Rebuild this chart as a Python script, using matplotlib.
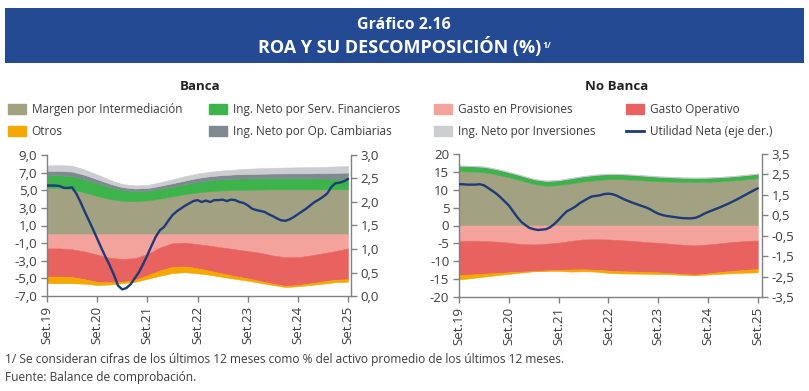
import matplotlib
matplotlib.use('Agg')
import matplotlib.pyplot as plt
from matplotlib.patches import Patch, Rectangle
from matplotlib.lines import Line2D
from matplotlib.ticker import FuncFormatter, FixedLocator

plt.rcParams['font.family'] = ['Open Sans', 'DejaVu Sans']

W, H = 809, 391

# ---------------- data ----------------
# months since Set.19 (quarterly readings for the stacked areas)
q_months = [0, 3, 6, 9, 12, 15, 18, 21, 24, 27, 30, 33, 36, 39, 42, 45, 48, 51, 54, 57, 60, 63, 66, 69, 72]
m_months = list(range(73))
tick_months = [0, 12, 24, 36, 48, 60, 72]
tick_labels = ['Set.19', 'Set.20', 'Set.21', 'Set.22', 'Set.23', 'Set.24', 'Set.25']

# Banca
banca_margen = [5.30, 5.25, 5.10, 4.75, 4.35, 4.00, 3.80, 3.75, 3.85, 4.05, 4.30, 4.55, 4.75,
                4.90, 4.98, 5.02, 5.05, 5.08, 5.10, 5.10, 5.10, 5.10, 5.10, 5.10, 5.10]
banca_serv_fin = [1.38, 1.45, 1.50, 1.50, 1.45, 1.35, 1.25, 1.15, 1.10, 1.10, 1.10, 1.15, 1.20,
                  1.25, 1.27, 1.30, 1.30, 1.30, 1.30, 1.30, 1.28, 1.25, 1.23, 1.22, 1.22]
banca_cambiarias = [0.52, 0.50, 0.52, 0.50, 0.45, 0.40, 0.30, 0.30, 0.30, 0.35, 0.40, 0.40, 0.45,
                    0.45, 0.47, 0.48, 0.50, 0.50, 0.50, 0.52, 0.54, 0.57, 0.62, 0.66, 0.68]
banca_inversiones = [0.62, 0.65, 0.68, 0.60, 0.55, 0.45, 0.35, 0.35, 0.35, 0.40, 0.45, 0.50, 0.50,
                     0.50, 0.53, 0.55, 0.60, 0.62, 0.65, 0.66, 0.68, 0.70, 0.70, 0.72, 0.78]
banca_provisiones = [-1.60, -1.60, -1.70, -1.95, -2.30, -2.65, -2.80, -2.70, -2.25, -1.50, -1.00, -0.95, -1.12,
                     -1.30, -1.50, -1.70, -1.90, -2.10, -2.40, -2.60, -2.60, -2.40, -2.15, -1.90, -1.60]
banca_gasto_op = [-3.20, -3.20, -3.15, -3.15, -3.10, -2.80, -2.60, -2.45, -2.40, -2.60, -2.70, -2.70, -2.73,
                  -2.85, -2.95, -3.05, -3.10, -3.20, -3.20, -3.25, -3.15, -3.15, -3.20, -3.25, -3.50]
banca_otros = [-0.75, -0.75, -0.70, -0.50, -0.35, -0.25, -0.15, -0.25, -0.40, -0.60, -0.70, -0.65, -0.57,
               -0.45, -0.38, -0.30, -0.26, -0.20, -0.15, -0.13, -0.15, -0.20, -0.25, -0.28, -0.28]
banca_utilidad = [2.35, 2.35, 2.35, 2.34, 2.30, 2.30, 2.31, 2.18, 2.00, 1.80, 1.61, 1.42, 1.22,
                  1.02, 0.83, 0.65, 0.45, 0.22, 0.14, 0.17, 0.25, 0.38, 0.51, 0.68, 0.87,
                  1.07, 1.26, 1.40, 1.47, 1.60, 1.72, 1.80, 1.86, 1.92, 1.97, 2.02, 2.04,
                  2.00, 2.03, 2.00, 2.04, 2.04, 2.05, 2.02, 2.05, 2.04, 2.00, 1.98, 1.93,
                  1.86, 1.83, 1.81, 1.79, 1.74, 1.70, 1.65, 1.61, 1.60, 1.63, 1.68, 1.74,
                  1.80, 1.86, 1.93, 2.00, 2.05, 2.11, 2.18, 2.32, 2.40, 2.41, 2.44, 2.49]

# No Banca
nb_margen = [15.20, 15.10, 14.90, 14.30, 13.50, 12.60, 11.60, 11.10, 11.30, 11.80, 12.30, 12.70, 12.95,
             12.95, 12.80, 12.60, 12.40, 12.30, 12.20, 12.15, 12.20, 12.35, 12.60, 12.90, 13.25]
nb_serv_fin = [1.45, 1.45, 1.45, 1.40, 1.35, 1.30, 1.30, 1.30, 1.30, 1.35, 1.40, 1.40, 1.40,
               1.35, 1.30, 1.25, 1.20, 1.15, 1.10, 1.10, 1.10, 1.10, 1.10, 1.12, 1.15]
nb_cambiarias = [0.05, 0.05, 0.05, 0.05, 0.05, 0.05, 0.05, 0.05, 0.05, 0.05, 0.05, 0.05, 0.05,
                 0.05, 0.05, 0.05, 0.05, 0.05, 0.05, 0.05, 0.05, 0.05, 0.05, 0.05, 0.05]
nb_inversiones = [0.15, 0.15, 0.15, 0.15, 0.15, 0.15, 0.15, 0.15, 0.15, 0.15, 0.15, 0.15, 0.15,
                  0.15, 0.15, 0.15, 0.15, 0.15, 0.15, 0.15, 0.15, 0.15, 0.15, 0.15, 0.15]
nb_provisiones = [-4.30, -4.30, -4.35, -4.50, -4.80, -5.20, -5.30, -5.10, -4.80, -4.30, -3.90, -3.85, -3.90,
                  -4.10, -4.35, -4.60, -4.85, -5.10, -5.40, -5.55, -5.30, -4.95, -4.60, -4.35, -4.20]
nb_gasto_op = [-9.60, -9.40, -9.15, -8.80, -8.30, -7.70, -7.40, -7.45, -7.60, -8.00, -8.35, -8.55, -8.70,
               -8.70, -8.55, -8.40, -8.25, -8.20, -8.20, -8.20, -8.10, -8.05, -8.10, -8.05, -8.00]
nb_otros = [-1.20, -1.00, -0.80, -0.60, -0.45, -0.25, -0.10, -0.15, -0.30, -0.60, -0.55, -0.50, -0.65,
            -0.60, -0.55, -0.50, -0.45, -0.35, -0.20, -0.15, -0.30, -0.50, -0.65, -0.80, -0.90]
nb_utilidad = [2.02, 2.02, 2.00, 2.00, 2.00, 2.02, 1.97, 1.84, 1.70, 1.56, 1.38, 1.18, 0.98,
               0.70, 0.42, 0.18, 0.02, -0.12, -0.18, -0.22, -0.20, -0.18, -0.08, 0.08, 0.28,
               0.50, 0.70, 0.80, 0.92, 1.08, 1.20, 1.32, 1.42, 1.45, 1.48, 1.54, 1.56,
               1.53, 1.46, 1.36, 1.26, 1.18, 1.10, 1.03, 0.96, 0.89, 0.80, 0.68, 0.58,
               0.51, 0.47, 0.44, 0.41, 0.38, 0.36, 0.35, 0.35, 0.38, 0.46, 0.57, 0.66,
               0.74, 0.82, 0.90, 0.99, 1.08, 1.18, 1.28, 1.39, 1.50, 1.61, 1.72, 1.82]

# ---------------- styles ----------------
C_MARGEN = '#a2a282'
C_SERV = '#3cb44b'
C_CAMB = '#7f8a90'
C_INV = '#cbcdd0'
C_PROV = '#f3a39c'
C_OPER = '#e8625f'
C_OTROS = '#f5a800'
C_LINE = '#1f3a78'
C_TXT = '#3c3c3c'
C_AX = '#808080'
C_BLUE = '#234a93'

TICK_FS = 9.5
LEG_FS = 8.5


def fx(x):
    return x / W


def fy(y):
    return 1 - y / H


fig = plt.figure(figsize=(W / 100, H / 100), dpi=100)

# banner
fig.add_artist(Rectangle((fx(5), fy(63)), fx(799), 55 / H, transform=fig.transFigure,
                         facecolor=C_BLUE, edgecolor='none'))
fig.text(fx(404), fy(25), 'Gráfico 2.16', color='white', fontsize=11.5, fontweight='bold',
         ha='center', va='center')
t2 = fig.text(fx(400), fy(47), 'ROA Y SU DESCOMPOSICIÓN (%)', color='white', fontsize=13,
              fontweight='bold', ha='center', va='center')


def comma_fmt(dec):
    def f(v, p):
        s = f'{v:.{dec}f}'.replace('.', ',')
        if s.startswith('-') and float(v) == 0:
            s = s[1:]
        return s
    return FuncFormatter(f)


def setup_axes(rect, xmax, ylim, yticks, ydec, y2lim, y2ticks, y2dec):
    ax = fig.add_axes(rect)
    ax.set_xlim(0, xmax)
    ax.set_ylim(*ylim)
    ax.yaxis.set_major_locator(FixedLocator(yticks))
    ax.yaxis.set_major_formatter(comma_fmt(ydec))
    ax.set_xticks(tick_months)
    ax.set_xticklabels(tick_labels, rotation=90)
    for s in ['top', 'right']:
        ax.spines[s].set_visible(False)
    for s in ['left', 'bottom']:
        ax.spines[s].set_color(C_AX)
        ax.spines[s].set_linewidth(1.0)
    ax.tick_params(axis='both', direction='out', length=4, width=1, color=C_AX,
                   labelsize=TICK_FS, labelcolor=C_TXT, pad=3)
    ax.patch.set_alpha(0)
    ax2 = ax.twinx()
    ax2.set_ylim(*y2lim)
    ax2.yaxis.set_major_locator(FixedLocator(y2ticks))
    ax2.yaxis.set_major_formatter(comma_fmt(y2dec))
    for s in ['top', 'left', 'bottom']:
        ax2.spines[s].set_visible(False)
    ax2.spines['right'].set_color(C_AX)
    ax2.spines['right'].set_linewidth(1.0)
    ax2.tick_params(axis='y', direction='out', length=4, width=1, color=C_AX,
                    labelsize=TICK_FS, labelcolor=C_TXT, pad=3)
    return ax, ax2


def draw_panel(ax, ax2, pos_series, neg_series, util):
    pos_colors = [C_MARGEN, C_SERV, C_CAMB, C_INV]
    neg_colors = [C_PROV, C_OPER, C_OTROS]
    polys = ax.stackplot(q_months, *pos_series, colors=pos_colors)
    polys += ax.stackplot(q_months, *neg_series, colors=neg_colors)
    for p, c in zip(polys, pos_colors + neg_colors):
        p.set_edgecolor(c)
        p.set_linewidth(0.4)
    ax2.plot(m_months, util, color=C_LINE, lw=1.7, solid_capstyle='round')


# Banca panel
axL, axL2 = setup_axes([fx(47), fy(296), (351 - 47) / W, (296 - 155) / H], 72.7,
                       (-7, 9), [-7, -5, -3, -1, 1, 3, 5, 7, 9], 1,
                       (0, 3.0), [0, 0.5, 1.0, 1.5, 2.0, 2.5, 3.0], 1)
draw_panel(axL, axL2,
           [banca_margen, banca_serv_fin, banca_cambiarias, banca_inversiones],
           [banca_provisiones, banca_gasto_op, banca_otros], banca_utilidad)

# No Banca panel
axR, axR2 = setup_axes([fx(459), fy(297), (762 - 459) / W, (297 - 154) / H], 73,
                       (-20, 20), [-20, -15, -10, -5, 0, 5, 10, 15, 20], 0,
                       (-3.5, 3.5), [-3.5, -2.5, -1.5, -0.5, 0.5, 1.5, 2.5, 3.5], 1)
draw_panel(axR, axR2,
           [nb_margen, nb_serv_fin, nb_cambiarias, nb_inversiones],
           [nb_provisiones, nb_gasto_op, nb_otros], nb_utilidad)

# panel titles
fig.text(fx(200), fy(87), 'Banca', fontsize=9.5, fontweight='bold', color='#222222',
         ha='center', va='center')
fig.text(fx(617), fy(87), 'No Banca', fontsize=9.5, fontweight='bold', color='#222222',
         ha='center', va='center')

# legends (one legend per column)
def add_legend(handles, labels, x_left, y_top):
    lg = fig.legend(handles, labels, loc='upper left', bbox_to_anchor=(fx(x_left), fy(y_top)),
                    bbox_transform=fig.transFigure, frameon=False, fontsize=LEG_FS,
                    handlelength=1.55, handleheight=1.0, handletextpad=0.45,
                    labelspacing=0.78, borderpad=0, borderaxespad=0)
    for t in lg.get_texts():
        t.set_color(C_TXT)
    return lg


add_legend([Patch(color=C_MARGEN), Patch(color=C_OTROS)],
           ['Margen por Intermediación', 'Otros'], 8, 103)
add_legend([Patch(color=C_SERV), Patch(color=C_CAMB)],
           ['Ing. Neto por Serv. Financieros', 'Ing. Neto por Op. Cambiarias'], 209, 103)
add_legend([Patch(color=C_PROV), Patch(color=C_INV)],
           ['Gasto en Provisiones', 'Ing. Neto por Inversiones'], 434, 103)
add_legend([Patch(color=C_OPER), Line2D([], [], color=C_LINE, lw=2)],
           ['Gasto Operativo', 'Utilidad Neta (eje der.)'], 626, 103)

# footnotes
fig.text(fx(5), fy(360), '1/ Se consideran cifras de los últimos 12 meses como % del activo promedio de los últimos 12 meses.',
         fontsize=8.6, color=C_TXT, ha='left', va='center')
fig.text(fx(5), fy(377), 'Fuente: Balance de comprobación.', fontsize=8.6, color=C_TXT,
         ha='left', va='center')

# superscript for title
fig.canvas.draw()
bb = t2.get_window_extent()
fig.text(bb.x1 / W + 1 / W, (bb.y1 - 4) / H, '1/', color='white', fontsize=6.5,
         fontweight='bold', ha='left', va='top')

fig.savefig('out.png', dpi=100)
